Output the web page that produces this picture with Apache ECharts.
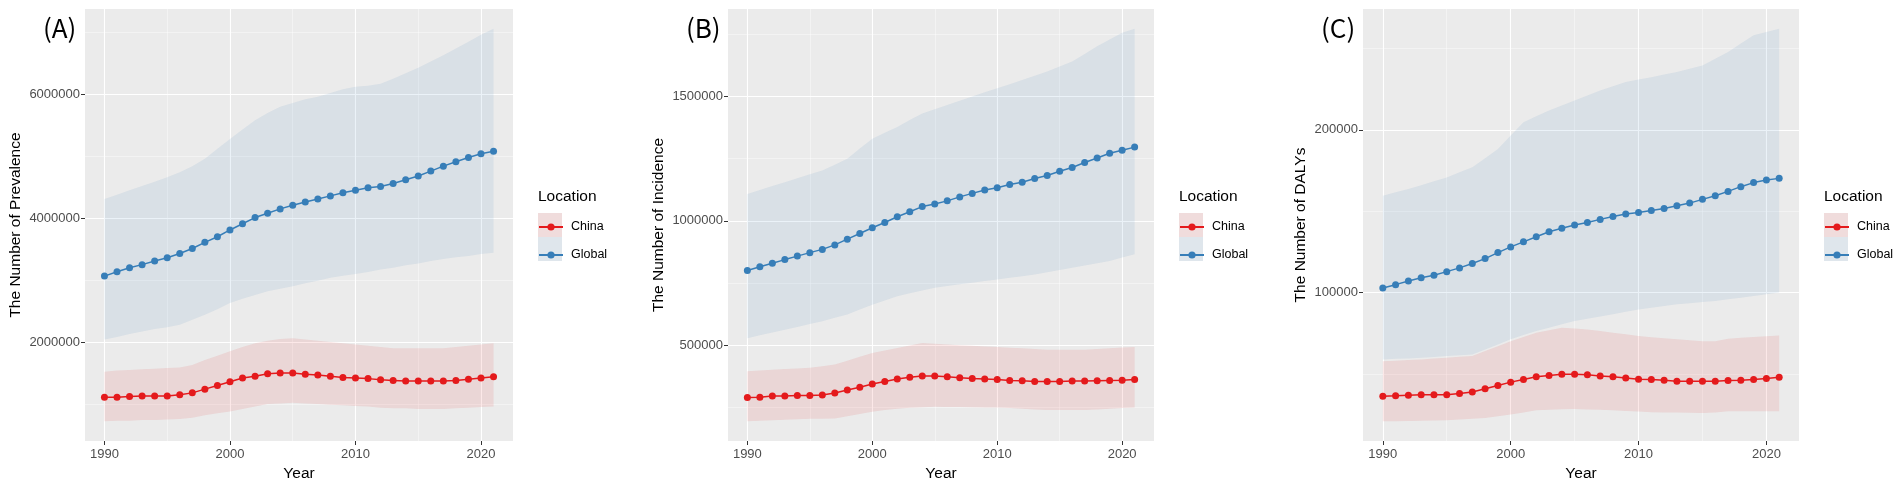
<!DOCTYPE html>
<html>
<head>
<meta charset="utf-8">
<title>China vs Global</title>
<script src="https://cdn.jsdelivr.net/npm/echarts@6.0.0/dist/echarts.min.js"></script>
<style>
  html, body { margin: 0; padding: 0; background: #fff; }
  #chart { width: 1902px; height: 489px; }
</style>
</head>
<body>
<div id="chart"></div>
<script>
// years 1990-2021
const years = [];
for (let y = 1990; y <= 2021; y++) years.push(y);
const yearTicks = [1990, 2000, 2010, 2020];

// (A) prevalence
const prevGlobal = [3065000, 3135000, 3200000, 3250000, 3310000, 3360000, 3430000, 3510000, 3610000, 3700000, 3810000, 3910000, 4010000, 4080000, 4150000, 4210000, 4260000, 4310000, 4360000, 4410000, 4450000, 4490000, 4510000, 4560000, 4620000, 4680000, 4760000, 4840000, 4910000, 4980000, 5040000, 5080000];
const prevGlobalHi = [4310000, 4380000, 4450000, 4520000, 4590000, 4660000, 4740000, 4840000, 4960000, 5120000, 5280000, 5430000, 5580000, 5700000, 5800000, 5860000, 5920000, 5960000, 6020000, 6080000, 6120000, 6140000, 6170000, 6250000, 6340000, 6430000, 6530000, 6630000, 6740000, 6850000, 6960000, 7060000];
const prevGlobalLo = [2040000, 2080000, 2130000, 2170000, 2210000, 2240000, 2280000, 2360000, 2440000, 2530000, 2630000, 2700000, 2760000, 2820000, 2860000, 2900000, 2950000, 2990000, 3040000, 3070000, 3100000, 3130000, 3170000, 3200000, 3240000, 3270000, 3310000, 3340000, 3370000, 3390000, 3420000, 3440000];
const prevChina = [1110000, 1110000, 1120000, 1130000, 1130000, 1130000, 1150000, 1180000, 1240000, 1300000, 1360000, 1420000, 1450000, 1490000, 1500000, 1500000, 1480000, 1470000, 1450000, 1430000, 1420000, 1410000, 1390000, 1380000, 1370000, 1370000, 1370000, 1370000, 1380000, 1400000, 1420000, 1440000];
const prevChinaHi = [1520000, 1540000, 1550000, 1560000, 1570000, 1580000, 1590000, 1630000, 1710000, 1780000, 1850000, 1920000, 1980000, 2020000, 2050000, 2060000, 2040000, 2020000, 2000000, 1980000, 1960000, 1940000, 1920000, 1900000, 1900000, 1900000, 1900000, 1900000, 1920000, 1940000, 1960000, 1980000];
const prevChinaLo = [720000, 730000, 730000, 740000, 740000, 750000, 760000, 780000, 820000, 850000, 880000, 920000, 960000, 1000000, 1010000, 1020000, 1010000, 1000000, 990000, 980000, 970000, 960000, 940000, 930000, 930000, 920000, 920000, 920000, 930000, 940000, 950000, 960000];
const prevTicks = [2000000, 4000000, 6000000];

// (B) incidence
const incGlobal = [800000, 815000, 829000, 844000, 858000, 872000, 885000, 903000, 926000, 949000, 972000, 993000, 1016000, 1036000, 1057000, 1067000, 1080000, 1096000, 1110000, 1124000, 1133000, 1146000, 1155000, 1170000, 1182000, 1199000, 1214000, 1234000, 1252000, 1271000, 1283000, 1296000];
const incGlobalHi = [1108000, 1124000, 1140000, 1155000, 1171000, 1187000, 1202000, 1225000, 1249000, 1290000, 1330000, 1354000, 1377000, 1405000, 1431000, 1448000, 1465000, 1482000, 1499000, 1516000, 1532000, 1549000, 1566000, 1583000, 1600000, 1620000, 1640000, 1670000, 1701000, 1728000, 1755000, 1772000];
const incGlobalLo = [528000, 540000, 551000, 562000, 573000, 585000, 596000, 610000, 623000, 643000, 663000, 680000, 697000, 709000, 720000, 731000, 738000, 745000, 751000, 758000, 764000, 771000, 777000, 784000, 793000, 802000, 811000, 820000, 829000, 838000, 852000, 865000];
const incChina = [290000, 291000, 296000, 296000, 298000, 298000, 300000, 308000, 320000, 331000, 344000, 354000, 364000, 371000, 376000, 376000, 373000, 369000, 366000, 364000, 362000, 358000, 357000, 354000, 354000, 354000, 356000, 356000, 357000, 358000, 359000, 362000];
const incChinaHi = [395000, 398000, 401000, 404000, 406000, 409000, 415000, 422000, 438000, 454000, 469000, 479000, 489000, 499000, 509000, 506000, 503000, 500000, 498000, 495000, 493000, 490000, 488000, 485000, 482000, 482000, 482000, 482000, 485000, 488000, 491000, 493000];
const incChinaLo = [194000, 196000, 198000, 200000, 202000, 204000, 205000, 206000, 215000, 224000, 233000, 240000, 245000, 249000, 251000, 253000, 252000, 252000, 251000, 250000, 250000, 248000, 245000, 242000, 240000, 240000, 240000, 240000, 242000, 245000, 248000, 250000];
const incTicks = [500000, 1000000, 1500000];

// (C) DALYs
const dalyGlobal = [102900, 104900, 107200, 109200, 110700, 112900, 115200, 117900, 120900, 124600, 128100, 131200, 134300, 137400, 139600, 141500, 143100, 145000, 146800, 148300, 149300, 150500, 151700, 153400, 155000, 157300, 159500, 162200, 165100, 167600, 169200, 170200];
const dalyGlobalHi = [159500, 161600, 163700, 166000, 168400, 170800, 173900, 177000, 182600, 188300, 196500, 204700, 208300, 211900, 215000, 218100, 221100, 224200, 226800, 229400, 230900, 232400, 234000, 235500, 237500, 239600, 243700, 247800, 253000, 258100, 260200, 262200];
const dalyGlobalLo = [58900, 59300, 59600, 60000, 60500, 61000, 61500, 62000, 65100, 68200, 71300, 73900, 76400, 78400, 80500, 82500, 84000, 85400, 86700, 88200, 89700, 90700, 91800, 92800, 93500, 94200, 94900, 95900, 96900, 97900, 99000, 100000];
const dalyChina = [36300, 36600, 37000, 37200, 37200, 37200, 38000, 39000, 40900, 42900, 45000, 46600, 48300, 49100, 49900, 49900, 49500, 48700, 48300, 47600, 46800, 46600, 46200, 45600, 45600, 45600, 45600, 46000, 46200, 46600, 47200, 48000];
const dalyChinaHi = [57900, 58200, 58600, 58900, 59500, 60000, 60600, 61000, 64100, 67100, 70200, 72800, 75400, 76900, 78400, 77900, 77400, 76400, 75400, 74400, 73300, 72600, 72000, 71300, 70800, 70200, 70200, 71700, 72200, 72700, 73200, 73700];
const dalyChinaLo = [20900, 21000, 21200, 21300, 21500, 21600, 22000, 22500, 23000, 24000, 25100, 26400, 27700, 28100, 28300, 28500, 28200, 28000, 27700, 27300, 26900, 26500, 26400, 26300, 26200, 26100, 26400, 27100, 27100, 27100, 27100, 27100];
const dalyTicks = [100000, 200000];

const RED = "#E41A1C";
const BLUE = "#377EB8";
const RED_FILL = "rgba(228,26,28,0.10)";
const BLUE_FILL = "rgba(55,126,184,0.10)";

const panels = [
    { tag: "(A)", yName: "The Number of Prevalence", ticks: prevTicks, left: 85, width: 428, gap: 61,
      china: [prevChina, prevChinaLo, prevChinaHi], global: [prevGlobal, prevGlobalLo, prevGlobalHi] },
    { tag: "(B)", yName: "The Number of Incidence", ticks: incTicks, left: 728, width: 426, gap: 61,
      china: [incChina, incChinaLo, incChinaHi], global: [incGlobal, incGlobalLo, incGlobalHi] },
    { tag: "(C)", yName: "The Number of DALYs", ticks: dalyTicks, left: 1363, width: 436, gap: 54,
      china: [dalyChina, dalyChinaLo, dalyChinaHi], global: [dalyGlobal, dalyGlobalLo, dalyGlobalHi] }
];

// ggplot style 5% expansion
function expand(vals) {
    const lo = Math.min.apply(null, vals), hi = Math.max.apply(null, vals);
    const pad = (hi - lo) * 0.05;
    return [lo - pad, hi + pad];
}
const xExt = expand(years);

function ribbon(lo, hi, fill) {
    return function (params, api) {
        if (params.dataIndex !== 0) return null;
        const pts = [];
        for (let i = 0; i < years.length; i++) pts.push(api.coord([years[i], hi[i]]));
        for (let i = years.length - 1; i >= 0; i--) pts.push(api.coord([years[i], lo[i]]));
        return { type: "polygon", shape: { points: pts }, style: { fill: fill }, silent: true };
    };
}

function pairs(vals) {
    return years.map(function (y, i) { return [y, vals[i]]; });
}

let option = {
    animation: false,
    backgroundColor: "#fff",
    textStyle: { fontFamily: "Liberation Sans, Arial, sans-serif" },
    title: [],
    legend: [],
    grid: [],
    xAxis: [],
    yAxis: [],
    series: [],
    graphic: []
};

panels.forEach(function (p, k) {
    const yExt = expand([].concat(p.china[1], p.china[2], p.global[1], p.global[2]));
    option.grid.push({
        left: p.left, top: 9, width: p.width, height: 432,
        show: true, backgroundColor: "#EBEBEB", borderWidth: 0,
        containLabel: false, outerBoundsMode: "none"
    });
    option.xAxis.push({
        type: "value", gridIndex: k, min: xExt[0], max: xExt[1], splitNumber: 3,
        name: "Year", nameLocation: "middle", nameGap: 23,
        nameTextStyle: { fontSize: 15.5, color: "#000" },
        axisLine: { show: false },
        axisTick: { show: true, length: 4, lineStyle: { color: "#333" }, customValues: yearTicks },
        axisLabel: {
            customValues: yearTicks, margin: 7, fontSize: 13, color: "#4D4D4D",
            formatter: function (v) { return yearTicks.indexOf(v) >= 0 ? String(v) : ""; }
        },
        splitLine: { show: true, lineStyle: { color: "#FFFFFF", width: 1.1 } },
        minorTick: { show: false, splitNumber: 2 },
        minorSplitLine: { show: true, lineStyle: { color: "rgba(255,255,255,0.6)", width: 0.7 } }
    });
    option.yAxis.push({
        type: "value", gridIndex: k, min: yExt[0], max: yExt[1], splitNumber: 3,
        name: p.yName, nameLocation: "middle", nameRotate: 90, nameGap: p.gap,
        nameTextStyle: { fontSize: 15.5, color: "#000" },
        axisLine: { show: false },
        axisTick: { show: true, length: 4, lineStyle: { color: "#333" }, customValues: p.ticks },
        axisLabel: {
            customValues: p.ticks, margin: 5, fontSize: 13, color: "#4D4D4D",
            formatter: function (v) { return p.ticks.indexOf(v) >= 0 ? String(v) : ""; }
        },
        splitLine: { show: true, lineStyle: { color: "#FFFFFF", width: 1.1 } },
        minorTick: { show: false, splitNumber: 2 },
        minorSplitLine: { show: true, lineStyle: { color: "rgba(255,255,255,0.6)", width: 0.7 } }
    });

    // bands
    option.series.push({
        type: "custom", name: "China UI", xAxisIndex: k, yAxisIndex: k, silent: true, z: 1,
        renderItem: ribbon(p.china[1], p.china[2], RED_FILL),
        data: years.map(function (y, i) { return [y, p.china[1][i], p.china[2][i]]; }),
        encode: { x: 0, y: [1, 2] }
    });
    option.series.push({
        type: "custom", name: "Global UI", xAxisIndex: k, yAxisIndex: k, silent: true, z: 1,
        renderItem: ribbon(p.global[1], p.global[2], BLUE_FILL),
        data: years.map(function (y, i) { return [y, p.global[1][i], p.global[2][i]]; }),
        encode: { x: 0, y: [1, 2] }
    });
    // lines + points
    [["China", p.china[0], RED], ["Global", p.global[0], BLUE]].forEach(function (s) {
        option.series.push({
            type: "line", name: s[0], xAxisIndex: k, yAxisIndex: k, z: 3,
            data: pairs(s[1]),
            symbol: "circle", symbolSize: 7, showSymbol: true,
            itemStyle: { color: s[2] },
            lineStyle: { color: s[2], width: 1.5 }
        });
    });

    // panel tag and legend title
    const right = p.left + p.width;
    const legX = right + 25;
    option.title.push({
        text: p.tag, left: p.left - 42, top: 15, padding: 0,
        textStyle: { fontFamily: "Noto Sans CJK SC", fontSize: 26, fontWeight: "normal", color: "#000" }
    });
    option.title.push({
        text: "Location", left: legX, top: 189, padding: 0,
        textStyle: { fontSize: 15.5, fontWeight: "normal", color: "#000" }
    });
    option.legend.push({
        data: ["China", "Global"], orient: "vertical", left: legX, top: 220.5, padding: 0,
        itemWidth: 24, itemHeight: 9, itemGap: 15, selectedMode: false,
        textStyle: { fontSize: 12.5, color: "#000", padding: [0, 0, 0, 3] }
    });
    // legend key backgrounds
    [[213, RED_FILL], [237, BLUE_FILL]].forEach(function (kb) {
        option.graphic.push({ type: "rect", left: legX, top: kb[0], z: 0,
            shape: { width: 24, height: 24 }, style: { fill: "#F2F2F2" } });
        option.graphic.push({ type: "rect", left: legX, top: kb[0], z: 0,
            shape: { width: 24, height: 24 }, style: { fill: kb[1] } });
    });
});

let myChart = echarts.init(document.getElementById("chart"));
myChart.setOption(option);
window.addEventListener("resize", function () {
    myChart.resize();
});
</script>
</body>
</html>
